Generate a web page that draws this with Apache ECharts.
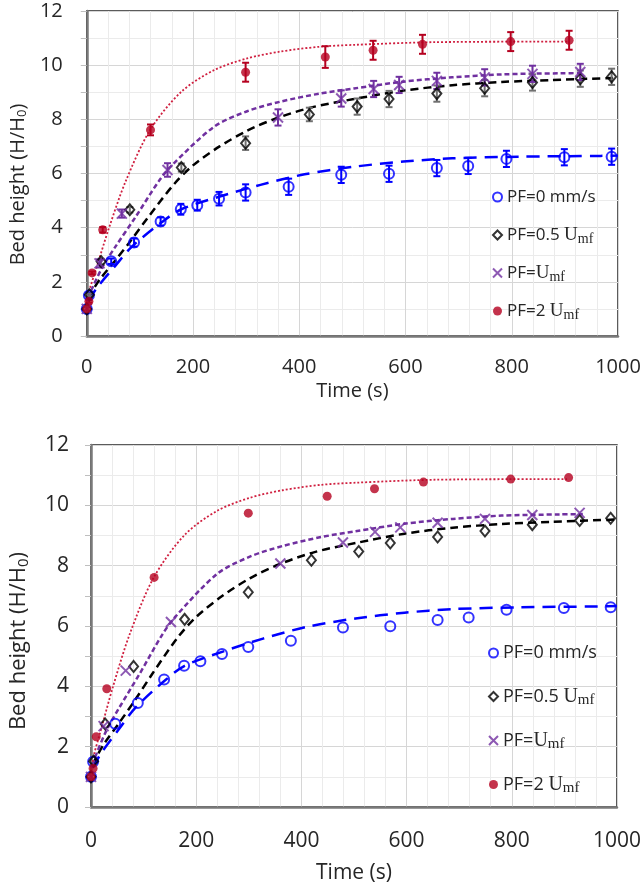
<!DOCTYPE html>
<html>
<head>
    <meta charset="utf-8">
    <title>Bed height</title>
    <script src="https://cdn.jsdelivr.net/npm/echarts@6/dist/echarts.min.js"></script>
    <style>
        html, body { margin: 0; padding: 0; background: #fff; }
    </style>
</head>
<body>
<div id="main" style="width: 644px;height:892px;"></div>

<script type="text/javascript">
// measured points (time in s, bed height H/H0, error half-width)
var tBlue   = [0, 4, 46, 89, 139, 177, 208, 249, 299, 380, 479, 569, 659, 718, 790, 899, 988];
var hBlue   = [1.0, 1.5, 2.76, 3.45, 4.23, 4.68, 4.83, 5.07, 5.3, 5.51, 5.95, 5.99, 6.2, 6.28, 6.54, 6.6, 6.62];
var eBlue   = [0, 0.1, 0.1, 0.15, 0.15, 0.2, 0.2, 0.25, 0.3, 0.3, 0.3, 0.3, 0.3, 0.3, 0.3, 0.3, 0.3];

var tBlack  = [0, 5, 27, 81, 178, 299, 419, 509, 569, 659, 749, 839, 929, 988];
var hBlack  = [1.0, 1.52, 2.75, 4.66, 6.22, 7.12, 8.18, 8.47, 8.75, 8.95, 9.15, 9.36, 9.5, 9.57];
var eBlack  = [0, 0.05, 0.1, 0.1, 0.15, 0.25, 0.25, 0.3, 0.3, 0.3, 0.3, 0.3, 0.3, 0.3];

var tPurple = [0, 24, 66, 152, 360, 479, 540, 588, 659, 749, 839, 929];
var hPurple = [1.0, 2.68, 4.52, 6.13, 8.07, 8.77, 9.12, 9.27, 9.42, 9.55, 9.68, 9.75];
var ePurple = [0, 0.15, 0.15, 0.25, 0.3, 0.3, 0.3, 0.3, 0.3, 0.3, 0.3, 0.3];

var tRed    = [0, 4, 10, 30, 120, 299, 449, 539, 632, 798, 908];
var hRed    = [1.0, 1.28, 2.33, 3.92, 7.61, 9.74, 10.3, 10.55, 10.77, 10.87, 10.92];
var eRed    = [0, 0.05, 0.05, 0.1, 0.2, 0.35, 0.4, 0.35, 0.35, 0.35, 0.35];

// trend curves
var fitTBlue   = [3, 20, 54, 85, 141, 178, 252, 327, 410, 503, 596, 688, 812, 967, 1000];
var fitHBlue   = [1.3, 1.8, 2.6, 3.3, 4.2, 4.68, 5.16, 5.58, 5.97, 6.25, 6.44, 6.56, 6.62, 6.65, 6.66];
var fitTBlack  = [3, 10, 25, 54, 82, 116, 164, 200, 250, 302, 357, 425, 503, 596, 688, 781, 874, 1000];
var fitHBlack  = [1.4, 1.65, 2.1, 2.8, 3.5, 4.4, 5.6, 6.3, 7.0, 7.58, 8.04, 8.45, 8.75, 9.06, 9.26, 9.38, 9.45, 9.53];
var fitTPurple = [3, 10, 30, 54, 92, 135, 160, 240, 302, 364, 438, 503, 596, 688, 781, 892, 935];
var fitHPurple = [1.4, 1.75, 2.56, 3.3, 4.4, 5.7, 6.3, 7.73, 8.3, 8.65, 8.95, 9.14, 9.39, 9.55, 9.66, 9.7, 9.71];
var fitTRed    = [3, 5, 17, 42, 73, 119, 178, 240, 302, 364, 438, 503, 657, 905];
var fitHRed    = [1.5, 1.7, 2.44, 4.0, 5.7, 7.6, 9.02, 9.82, 10.25, 10.5, 10.68, 10.75, 10.85, 10.87];

var legendNames = ['PF=0 mm/s', 'PF=0.5 Umf', 'PF=Umf', 'PF=2 Umf'];
var xTicks = [0, 200, 400, 600, 800, 1000];
var yTicks = [0, 2, 4, 6, 8, 10, 12];

var BLUE = '#0000ff', BLACK = '#000000', PURPLE = '#7030a0', RED = '#b5001f', RED_LINE = '#d02040';

var myChart = echarts.init(document.getElementById('main'));

function pairs(ts, hs) {
    return ts.map(function (t, i) { return [t, hs[i]]; });
}
function bars(ts, hs, es) {
    var out = [];
    ts.forEach(function (t, i) {
        if (es[i] > 0) out.push([t, hs[i] - es[i], hs[i] + es[i]]);
    });
    return out;
}

var xMark = 'path://M0,0L10,10M0,10L10,0';

var groups = [
    {name: legendNames[0], t: tBlue, h: hBlue, e: eBlue, ft: fitTBlue, fh: fitHBlue,
     color: BLUE, barColor: BLUE, line: {color: BLUE, width: 2.5, type: [13, 8]},
     symbol: 'circle', size: 10, style: {color: 'rgba(0,0,0,0)', borderColor: BLUE, borderWidth: 2}},
    {name: legendNames[1], t: tBlack, h: hBlack, e: eBlack, ft: fitTBlack, fh: fitHBlack,
     color: BLACK, barColor: '#707070', line: {color: BLACK, width: 2.5, type: [8, 5]},
     symbol: 'diamond', size: [9, 11], style: {color: 'rgba(0,0,0,0)', borderColor: BLACK, borderWidth: 2}},
    {name: legendNames[2], t: tPurple, h: hPurple, e: ePurple, ft: fitTPurple, fh: fitHPurple,
     color: PURPLE, barColor: PURPLE, line: {color: PURPLE, width: 2.5, type: [5, 3]},
     symbol: xMark, size: 10, style: {color: PURPLE, borderColor: PURPLE, borderWidth: 2}},
    {name: legendNames[3], t: tRed, h: hRed, e: eRed, ft: fitTRed, fh: fitHRed,
     color: RED, barColor: RED, line: {color: RED_LINE, width: 1.8, type: [2, 2]},
     symbol: 'circle', size: 9, style: {color: RED, borderColor: RED, borderWidth: 0}}
];

function buildSeries(idx, withBars) {
    var list = [];
    groups.forEach(function (g) {
        list.push({
            type: 'line',
            name: 'fit ' + g.name,
            xAxisIndex: idx, yAxisIndex: idx,
            data: pairs(g.ft, g.fh),
            smooth: 0.3,
            showSymbol: false,
            silent: true,
            z: 2,
            lineStyle: g.line
        });
    });
    if (withBars) {
        groups.forEach(function (g) {
            list.push({
                type: 'custom',
                name: 'err ' + g.name,
                xAxisIndex: idx, yAxisIndex: idx,
                silent: true,
                z: 3,
                data: bars(g.t, g.h, g.e),
                encode: {x: 0, y: [1, 2]},
                renderItem: function (params, api) {
                    var lo = api.coord([api.value(0), api.value(1)]);
                    var hi = api.coord([api.value(0), api.value(2)]);
                    var w = 3.5;
                    var st = {stroke: g.barColor, lineWidth: 2};
                    return {
                        type: 'group',
                        children: [
                            {type: 'line', shape: {x1: lo[0], y1: lo[1], x2: hi[0], y2: hi[1]}, style: st},
                            {type: 'line', shape: {x1: lo[0] - w, y1: lo[1], x2: lo[0] + w, y2: lo[1]}, style: st},
                            {type: 'line', shape: {x1: hi[0] - w, y1: hi[1], x2: hi[0] + w, y2: hi[1]}, style: st}
                        ]
                    };
                }
            });
        });
    }
    groups.forEach(function (g) {
        list.push({
            type: 'scatter',
            name: g.name,
            xAxisIndex: idx, yAxisIndex: idx,
            data: pairs(g.t, g.h),
            symbol: g.symbol,
            symbolSize: g.size,
            z: 4,
            itemStyle: g.style
        });
    });
    return list;
}

var legendIcons = [
    {icon: 'circle', itemStyle: {color: 'rgba(0,0,0,0)', borderColor: BLUE, borderWidth: 2}},
    {icon: 'diamond', itemStyle: {color: 'rgba(0,0,0,0)', borderColor: BLACK, borderWidth: 2}},
    {icon: xMark, itemStyle: {color: PURPLE, borderColor: PURPLE, borderWidth: 2}},
    {icon: 'circle', itemStyle: {color: RED, borderColor: RED, borderWidth: 0}}
];

function legendLabel(name) {
    if (name === 'PF=0 mm/s') return 'PF=0 mm/s';
    if (name === 'PF=0.5 Umf') return 'PF=0.5 {u|U}{s|mf}';
    if (name === 'PF=Umf') return 'PF={u|U}{s|mf}';
    return 'PF=2 {u|U}{s|mf}';
}

function makeLegend(left, top, gap, size) {
    return {
        orient: 'vertical',
        left: left,
        top: top,
        itemGap: gap,
        itemWidth: 9,
        itemHeight: 9,
        selectedMode: false,
        data: legendNames.map(function (n, i) {
            return {name: n, icon: legendIcons[i].icon, itemStyle: legendIcons[i].itemStyle};
        }),
        formatter: legendLabel,
        textStyle: {
            fontFamily: 'Open Sans',
            fontSize: size,
            color: '#262626',
            lineHeight: 22,
            rich: {
                u: {fontFamily: 'Liberation Serif', fontSize: size + 2, color: '#262626', lineHeight: 22},
                s: {fontFamily: 'Liberation Serif', fontSize: size - 3, color: '#262626', lineHeight: 22, padding: [8, 0, 0, 0]}
            }
        }
    };
}

function makeX(idx, labelSize, margin, nameGap) {
    return {
        type: 'value',
        gridIndex: idx,
        min: xTicks[0],
        max: xTicks[xTicks.length - 1],
        interval: xTicks[1] - xTicks[0],
        name: 'Time (s)',
        nameLocation: 'middle',
        nameGap: nameGap,
        nameTextStyle: {fontFamily: 'Open Sans', fontSize: labelSize, color: '#262626'},
        axisLine: {show: true, onZero: false, lineStyle: {color: '#7a7a7a', width: 2.5}},
        axisTick: {show: false},
        minorTick: {show: false, splitNumber: 5},
        axisLabel: {
            fontFamily: 'Open Sans', fontSize: labelSize, color: '#262626', margin: margin,
            formatter: function (v) { return String(v); }
        },
        splitLine: {show: true, lineStyle: {color: '#d6d6d6', width: 1}},
        minorSplitLine: {show: true, lineStyle: {color: '#ebebeb', width: 1}}
    };
}

function makeY(idx, labelSize, nameSize, margin, nameGap, shift) {
    return {
        type: 'value',
        gridIndex: idx,
        min: yTicks[0],
        max: yTicks[yTicks.length - 1],
        interval: yTicks[1] - yTicks[0],
        name: 'Bed height (H/H{s|0})',
        nameLocation: 'middle',
        nameGap: nameGap,
        nameTextStyle: {
            fontFamily: 'Open Sans', fontSize: nameSize, color: '#262626',
            padding: [0, shift, 0, 0],
            rich: {
                s: {fontFamily: 'Open Sans', fontSize: nameSize - 7, color: '#262626', padding: [9, 0, 0, 0]}
            }
        },
        axisLine: {show: true, onZero: false, lineStyle: {color: '#7a7a7a', width: 2.5}},
        axisTick: {show: true, length: 6, lineStyle: {color: '#bfbfbf', width: 1}},
        minorTick: {show: true, splitNumber: 2, length: 6, lineStyle: {color: '#bfbfbf', width: 1}},
        axisLabel: {fontFamily: 'Open Sans', fontSize: labelSize, color: '#262626', margin: margin},
        splitLine: {show: true, lineStyle: {color: '#d6d6d6', width: 1}},
        minorSplitLine: {show: true, lineStyle: {color: '#ebebeb', width: 1}}
    };
}

var option = {
    backgroundColor: '#fff',
    animation: false,
    grid: [{
        left: 79, top: 11, width: 539, height: 325,
        show: true, borderColor: '#262626', borderWidth: 1.5, backgroundColor: 'transparent'
    }, {
        left: 77, top: 445, width: 540, height: 362,
        show: true, borderColor: '#262626', borderWidth: 1.5, backgroundColor: 'transparent'
    }],
    legend: [
        makeLegend(487, 181, 16, 17),
        makeLegend(483, 637, 21, 18)
    ],
    xAxis: [
        makeX(0, 20, 21, 45),
        makeX(1, 21, 24, 56)
    ],
    yAxis: [
        makeY(0, 20, 20, 24, 55, 22),
        makeY(1, 21, 22, 22, 60, 30)
    ],
    series: buildSeries(0, true).concat(buildSeries(1, false))
};

myChart.setOption(option);
</script>
</body>
</html>
